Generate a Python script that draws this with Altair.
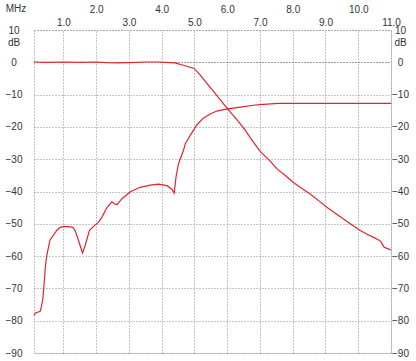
import altair as alt
import pandas as pd

# Transmission curve (low-pass response), MHz / dB
freq_s21 = [0.1, 0.5, 1.0, 1.5, 2.0, 2.3, 2.7, 3.0, 3.5, 3.9, 4.26, 4.4, 4.66, 4.99,
            5.17, 5.38, 5.58, 5.79, 6.01, 6.30, 6.55, 6.70, 7.0, 7.31, 7.52, 7.8,
            8.02, 8.27, 8.53, 8.8, 9.04, 9.3, 9.55, 9.8, 10.06, 10.3, 10.47, 10.62,
            10.69, 10.75, 10.79, 10.9, 11.0]
db_s21 = [0.1, 0.0, 0.1, 0.0, 0.1, -0.1, -0.2, -0.1, 0.1, 0.1, -0.1, -0.2, -0.9, -1.9,
          -3.9, -6.5, -9.0, -11.6, -14.4, -17.8, -21.0, -23.3, -27.5, -30.6, -33.0, -35.3,
          -37.2, -39.0, -40.8, -42.9, -44.9, -46.7, -48.5, -50.3, -52.1, -53.4, -54.2, -55.0,
          -55.5, -56.6, -57.3, -57.7, -58.1]

# Reflection curve, MHz / dB
freq_s11 = [0.1, 0.15, 0.29, 0.33, 0.37, 0.40, 0.42, 0.45, 0.49, 0.59, 0.68, 0.80, 0.90,
            1.0, 1.15, 1.29, 1.36, 1.41, 1.50, 1.58, 1.66, 1.79, 1.92, 2.07, 2.17, 2.33,
            2.48, 2.55, 2.63, 2.78, 3.04, 3.34, 3.65, 3.90, 4.16, 4.31, 4.38, 4.44, 4.51,
            4.56, 4.66, 4.72, 4.82, 4.89, 5.07, 5.27, 5.48, 5.68, 6.01, 6.40, 6.8, 7.0,
            7.56, 8.0, 9.0, 10.0, 11.0]
db_s11 = [-78.4, -77.6, -77.1, -75.5, -73.2, -69.5, -67.0, -63.0, -59.8, -55.0, -53.7, -52.0, -51.1,
          -50.9, -50.9, -51.1, -52.2, -53.7, -56.5, -59.0, -56.8, -52.1, -50.8, -49.5, -48.0, -44.9,
          -43.2, -43.8, -44.1, -42.3, -40.1, -38.7, -38.0, -37.7, -38.2, -39.3, -40.5, -35.2, -31.5,
          -30.0, -27.4, -25.2, -23.5, -22.3, -19.4, -17.3, -16.0, -15.1, -14.4, -13.9, -13.3, -13.1,
          -12.7, -12.7, -12.7, -12.7, -12.7]

x_odd = [1, 3, 5, 7, 9, 11]
x_even = [2, 4, 6, 8, 10]
y_ticks = [-90, -80, -70, -60, -50, -40, -30, -20, -10, 0, 10]
unit_x = ["MHz"]
unit_y_pos = 6

df = pd.concat([
    pd.DataFrame({"f": freq_s21, "db": db_s21, "series": "s21"}),
    pd.DataFrame({"f": freq_s11, "db": db_s11, "series": "s11"}),
], ignore_index=True)

xs = alt.Scale(domain=[0.1, 11], nice=False, zero=False)
ys = alt.Scale(domain=[-90, 10], nice=False, zero=False)

FONT = "Liberation Sans"
LC = "#333333"
GRID = "#8c8c8c"

grid_color = {"condition": {"test": "datum.value === 0", "value": "#333333"}, "value": GRID}
grid_op = {"condition": {"test": f"datum.value === {unit_y_pos}", "value": 0}, "value": 1}
label_expr = f"datum.value === {unit_y_pos} ? 'dB' : datum.label"

common = dict(ticks=False, tickSize=0, domain=False, labelFont=FONT, labelFontSize=10,
              labelColor=LC, labelFlush=False, labelOverlap=False, gridDash=[1, 2],
              gridWidth=1)

base = alt.Chart(df)

lines = base.mark_line(color="#e0242c", strokeWidth=1.2).encode(
    x=alt.X("f:Q", scale=xs, title=None,
            axis=alt.Axis(orient="top", values=x_odd, format=".1f", labelPadding=7.8,
                          labelBaseline="middle", grid=True, gridColor=GRID, **common)),
    y=alt.Y("db:Q", scale=ys, title=None,
            axis=alt.Axis(orient="left", values=y_ticks + [unit_y_pos], labelExpr=label_expr,
                          labelAlign="center", labelPadding=20.5, grid=True,
                          gridColor=grid_color, gridOpacity=grid_op, **common)),
    detail="series:N",
)

ghost = base.mark_line(opacity=0).encode(
    x=alt.X("f:Q", scale=xs, title=None,
            axis=alt.Axis(orient="top", values=x_even, format=".1f", labelPadding=20.8,
                          labelBaseline="middle", grid=True, gridColor=GRID, **common)),
    y=alt.Y("db:Q", scale=ys, title=None,
            axis=alt.Axis(orient="right", values=y_ticks + [unit_y_pos], labelExpr=label_expr,
                          labelAlign="center", labelPadding=9, grid=False, **common)),
    detail="series:N",
)

mhz = alt.Chart(pd.DataFrame({"t": unit_x})).mark_text(
    font=FONT, fontSize=10, color=LC, align="center", baseline="middle"
).encode(text="t:N", x=alt.value(-18), y=alt.value(-21))

chart = alt.layer(lines, ghost, mhz).resolve_axis(x="independent", y="independent").properties(
    width=357, height=323,
    autosize=alt.AutoSizeParams(type="none"),
    padding={"left": 34, "top": 30, "right": 25, "bottom": 8},
    background="white",
).configure_view(stroke=GRID, strokeDash=[1, 2])

chart.save("out.html", embed_options={"renderer": "svg", "actions": False})
